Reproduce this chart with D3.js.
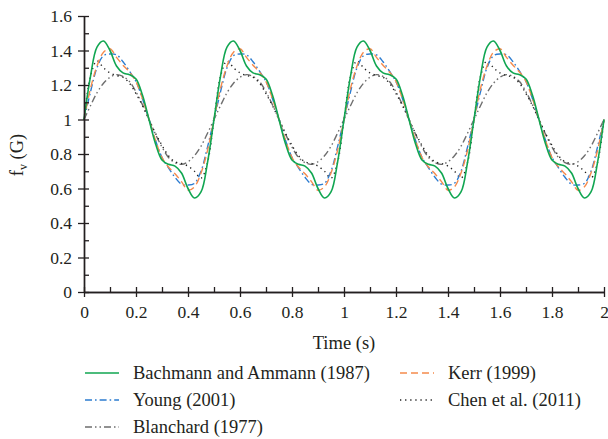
<!DOCTYPE html>
<html>
<head>
<meta charset="utf-8">
<script src="https://cdn.jsdelivr.net/npm/d3@7"></script>
<style>
  html, body { margin: 0; padding: 0; background: #fff; }
  svg { display: block; }
  text { font-family: "Liberation Serif", "Times New Roman", serif; fill: #231f20; }
</style>
</head>
<body>
<svg id="chart" width="608" height="439"></svg>
<script>
// Sample times (s)
const time = [
  0, 0.025, 0.05, 0.075, 0.1, 0.125, 0.15, 0.175, 0.2, 0.225,
  0.25, 0.275, 0.3, 0.325, 0.35, 0.375, 0.4, 0.425, 0.45, 0.475,
  0.5, 0.525, 0.55, 0.575, 0.6, 0.625, 0.65, 0.675, 0.7, 0.725,
  0.75, 0.775, 0.8, 0.825, 0.85, 0.875, 0.9, 0.925, 0.95, 0.975,
  1, 1.025, 1.05, 1.075, 1.1, 1.125, 1.15, 1.175, 1.2, 1.225,
  1.25, 1.275, 1.3, 1.325, 1.35, 1.375, 1.4, 1.425, 1.45, 1.475,
  1.5, 1.525, 1.55, 1.575, 1.6, 1.625, 1.65, 1.675, 1.7, 1.725,
  1.75, 1.775, 1.8, 1.825, 1.85, 1.875, 1.9, 1.925, 1.95, 1.975,
  2
];

// Gust factor f_v (G) for each model
const bachmann = [
  1.00, 1.25, 1.42, 1.455, 1.40, 1.31, 1.27, 1.26, 1.235, 1.14,
  1.00, 0.86, 0.765, 0.74, 0.73, 0.69, 0.60, 0.545, 0.58, 0.75,
  1.00, 1.25, 1.42, 1.455, 1.40, 1.31, 1.27, 1.26, 1.235, 1.14,
  1.00, 0.86, 0.765, 0.74, 0.73, 0.69, 0.60, 0.545, 0.58, 0.75,
  1.00, 1.25, 1.42, 1.455, 1.40, 1.31, 1.27, 1.26, 1.235, 1.14,
  1.00, 0.86, 0.765, 0.74, 0.73, 0.69, 0.60, 0.545, 0.58, 0.75,
  1.00, 1.25, 1.42, 1.455, 1.40, 1.31, 1.27, 1.26, 1.235, 1.14,
  1.00, 0.86, 0.765, 0.74, 0.73, 0.69, 0.60, 0.545, 0.58, 0.75,
  1.00
];
const kerr = [
  1.00, 1.18, 1.31, 1.39, 1.41, 1.36, 1.315, 1.275, 1.22, 1.12,
  1.00, 0.88, 0.78, 0.725, 0.685, 0.64, 0.59, 0.61, 0.69, 0.82,
  1.00, 1.18, 1.31, 1.39, 1.41, 1.36, 1.315, 1.275, 1.22, 1.12,
  1.00, 0.88, 0.78, 0.725, 0.685, 0.64, 0.59, 0.61, 0.69, 0.82,
  1.00, 1.18, 1.31, 1.39, 1.41, 1.36, 1.315, 1.275, 1.22, 1.12,
  1.00, 0.88, 0.78, 0.725, 0.685, 0.64, 0.59, 0.61, 0.69, 0.82,
  1.00, 1.18, 1.31, 1.39, 1.41, 1.36, 1.315, 1.275, 1.22, 1.12,
  1.00, 0.88, 0.78, 0.725, 0.685, 0.64, 0.59, 0.61, 0.69, 0.82,
  1.00
];
const young = [
  1.00, 1.16, 1.30, 1.37, 1.38, 1.375, 1.335, 1.28, 1.22, 1.12,
  1.00, 0.88, 0.78, 0.72, 0.665, 0.625, 0.62, 0.63, 0.70, 0.84,
  1.00, 1.16, 1.30, 1.37, 1.38, 1.375, 1.335, 1.28, 1.22, 1.12,
  1.00, 0.88, 0.78, 0.72, 0.665, 0.625, 0.62, 0.63, 0.70, 0.84,
  1.00, 1.16, 1.30, 1.37, 1.38, 1.375, 1.335, 1.28, 1.22, 1.12,
  1.00, 0.88, 0.78, 0.72, 0.665, 0.625, 0.62, 0.63, 0.70, 0.84,
  1.00, 1.16, 1.30, 1.37, 1.38, 1.375, 1.335, 1.28, 1.22, 1.12,
  1.00, 0.88, 0.78, 0.72, 0.665, 0.625, 0.62, 0.63, 0.70, 0.84,
  1.00
];
const chen = [
  1.00, 1.25, 1.34, 1.30, 1.27, 1.255, 1.245, 1.21, 1.15, 1.08,
  1.00, 0.92, 0.85, 0.79, 0.755, 0.745, 0.73, 0.70, 0.66, 0.75,
  1.00, 1.25, 1.34, 1.30, 1.27, 1.255, 1.245, 1.21, 1.15, 1.08,
  1.00, 0.92, 0.85, 0.79, 0.755, 0.745, 0.73, 0.70, 0.66, 0.75,
  1.00, 1.25, 1.34, 1.30, 1.27, 1.255, 1.245, 1.21, 1.15, 1.08,
  1.00, 0.92, 0.85, 0.79, 0.755, 0.745, 0.73, 0.70, 0.66, 0.75,
  1.00, 1.25, 1.34, 1.30, 1.27, 1.255, 1.245, 1.21, 1.15, 1.08,
  1.00, 0.92, 0.85, 0.79, 0.755, 0.745, 0.73, 0.70, 0.66, 0.75,
  1.00
];
const blanchard = [
  1.00, 1.08, 1.155, 1.21, 1.245, 1.26, 1.25, 1.22, 1.16, 1.085,
  1.00, 0.915, 0.84, 0.78, 0.75, 0.74, 0.755, 0.79, 0.845, 0.92,
  1.00, 1.08, 1.155, 1.21, 1.245, 1.26, 1.25, 1.22, 1.16, 1.085,
  1.00, 0.915, 0.84, 0.78, 0.75, 0.74, 0.755, 0.79, 0.845, 0.92,
  1.00, 1.08, 1.155, 1.21, 1.245, 1.26, 1.25, 1.22, 1.16, 1.085,
  1.00, 0.915, 0.84, 0.78, 0.75, 0.74, 0.755, 0.79, 0.845, 0.92,
  1.00, 1.08, 1.155, 1.21, 1.245, 1.26, 1.25, 1.22, 1.16, 1.085,
  1.00, 0.915, 0.84, 0.78, 0.75, 0.74, 0.755, 0.79, 0.845, 0.92,
  1.00
];

// Axis ticks
const xMajor = [0, 0.2, 0.4, 0.6, 0.8, 1, 1.2, 1.4, 1.6, 1.8, 2];
const xTickLabels = ["0", "0.2", "0.4", "0.6", "0.8", "1", "1.2", "1.4", "1.6", "1.8", "2"];
const xMinor = [0.1, 0.3, 0.5, 0.7, 0.9, 1.1, 1.3, 1.5, 1.7, 1.9];
const yMajor = [0, 0.2, 0.4, 0.6, 0.8, 1, 1.2, 1.4, 1.6];
const yTickLabels = ["0", "0.2", "0.4", "0.6", "0.8", "1", "1.2", "1.4", "1.6"];
const yMinor = [0.1, 0.3, 0.5, 0.7, 0.9, 1.1, 1.3, 1.5];

// Series names, drawn in this order (last on top)
const seriesNames = ["Blanchard (1977)", "Chen et al. (2011)", "Young (2001)", "Kerr (1999)", "Bachmann and Ammann (1987)"];
const seriesValues = [blanchard, chen, young, kerr, bachmann];

const styles = {
  "Bachmann and Ammann (1987)": { color: "#10a651", dash: null, width: 1.6 },
  "Kerr (1999)": { color: "#f58a4c", dash: "7,4", width: 1.4 },
  "Young (2001)": { color: "#2c7cd0", dash: "7,3,1.6,3", width: 1.4 },
  "Chen et al. (2011)": { color: "#222222", dash: "1.3,3.8", width: 1.4 },
  "Blanchard (1977)": { color: "#6e6e6e", dash: "7,3,1.5,3,1.5,3", width: 1.4 }
};

// Legend layout: [column, row]
const legendOrder = [
  ["Bachmann and Ammann (1987)", 0, 0],
  ["Young (2001)", 0, 1],
  ["Blanchard (1977)", 0, 2],
  ["Kerr (1999)", 1, 0],
  ["Chen et al. (2011)", 1, 1]
];

const svg = d3.select("#chart");
svg.append("rect").attr("width", 608).attr("height", 439).attr("fill", "#fff");

const x = d3.scaleLinear().domain([0, 2]).range([84, 604]);
const y = d3.scaleLinear().domain([0, 1.6]).range([292, 16]);
const axisColor = "#231f20";

// Curves
const line = d3.line()
  .x(d => x(d[0]))
  .y(d => y(d[1]))
  .curve(d3.curveCatmullRom.alpha(0.5));

const curves = svg.append("g").attr("class", "curves");
seriesNames.forEach((name, i) => {
  const st = styles[name];
  const pts = time.map((t, j) => [t, seriesValues[i][j]]);
  curves.append("path")
    .datum(pts)
    .attr("fill", "none")
    .attr("stroke", st.color)
    .attr("stroke-width", st.width)
    .attr("stroke-dasharray", st.dash)
    .attr("d", line);
});

// X axis: outward ticks with labels, inward ticks for majors and minors
const xOut = svg.append("g")
  .attr("transform", `translate(0,${y(0)})`)
  .call(d3.axisBottom(x).tickValues(xMajor).tickSize(5).tickSizeOuter(0)
    .tickPadding(9).tickFormat((d, i) => xTickLabels[i]));
const xIn = svg.append("g")
  .attr("transform", `translate(0,${y(0)})`)
  .call(d3.axisTop(x).tickValues(xMajor.concat(xMinor)).tickSize(5).tickSizeOuter(0).tickFormat(""));

// Y axis
const yOut = svg.append("g")
  .attr("transform", `translate(${x(0)},0)`)
  .call(d3.axisLeft(y).tickValues(yMajor).tickSize(6).tickSizeOuter(0)
    .tickPadding(6).tickFormat((d, i) => yTickLabels[i]));
const yIn = svg.append("g")
  .attr("transform", `translate(${x(0)},0)`)
  .call(d3.axisRight(y).tickValues(yMajor.concat(yMinor)).tickSize(5).tickSizeOuter(0).tickFormat(""));

[xOut, xIn, yOut, yIn].forEach(g => {
  g.selectAll("path.domain").attr("stroke", axisColor).attr("stroke-width", 1.4);
  g.selectAll(".tick line").attr("stroke", axisColor).attr("stroke-width", 1.3);
  g.selectAll(".tick text")
    .attr("font-family", "'Liberation Serif', 'Times New Roman', serif")
    .attr("font-size", 17.5)
    .attr("fill", axisColor);
});

// Axis titles
svg.append("text")
  .attr("x", 344).attr("y", 349)
  .attr("text-anchor", "middle")
  .attr("font-size", 18.5)
  .text("Time (s)");

const yTitle = svg.append("text")
  .attr("transform", "translate(23,155) rotate(-90)")
  .attr("text-anchor", "middle")
  .attr("font-size", 18.5);
yTitle.append("tspan").text("f");
yTitle.append("tspan").attr("font-size", 12).attr("dy", 4).text("v");
yTitle.append("tspan").attr("dy", -4).text(" (G)");

// Legend
const colLineX = [85, 400];
const colTextX = [133, 448];
const rowY = [373, 400, 427];
const legend = svg.append("g").attr("class", "legend");
legendOrder.forEach(([name, c, r]) => {
  const st = styles[name];
  legend.append("line")
    .attr("x1", colLineX[c]).attr("x2", colLineX[c] + 34)
    .attr("y1", rowY[r]).attr("y2", rowY[r])
    .attr("stroke", st.color)
    .attr("stroke-width", st.width)
    .attr("stroke-dasharray", st.dash);
  legend.append("text")
    .attr("x", colTextX[c]).attr("y", rowY[r] + 6)
    .attr("font-size", 18.5)
    .text(name);
});
</script>
</body>
</html>
